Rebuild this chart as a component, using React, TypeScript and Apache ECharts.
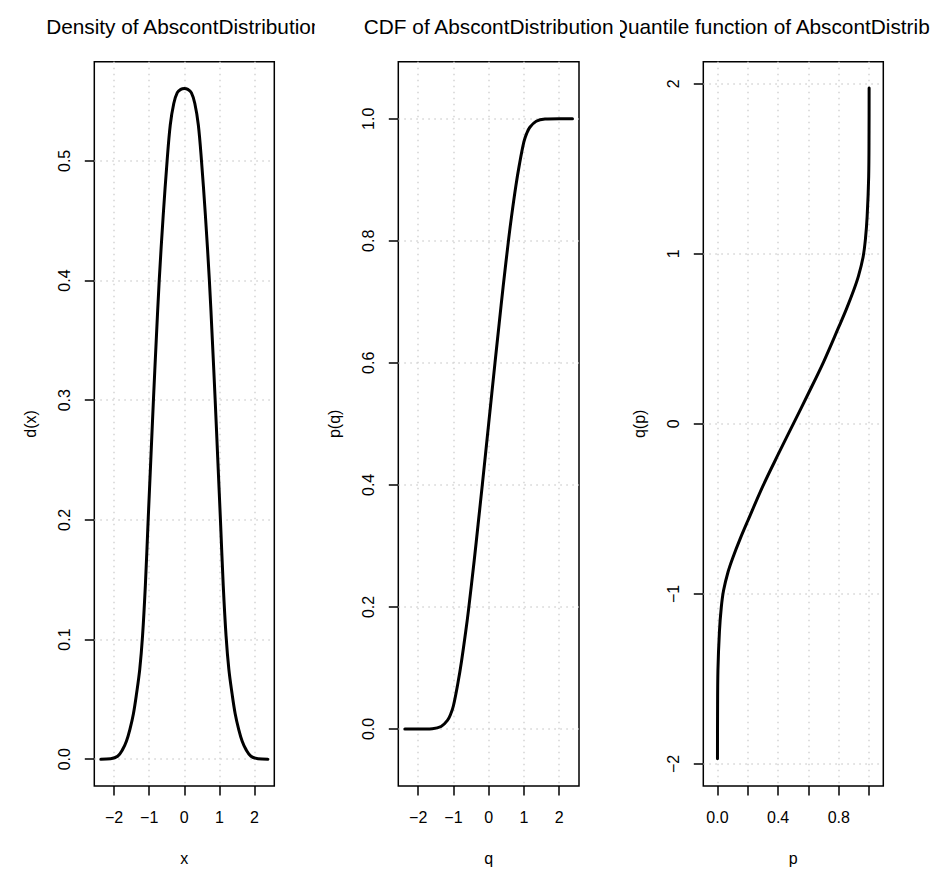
import React, { useEffect, useRef } from "react";
import * as echarts from "echarts";

// ---------- data ----------
const densityX = [-2.38, -2.1, -1.9, -1.76, -1.65, -1.55, -1.45, -1.36, -1.27, -1.19, -1.11, -1.03, -0.955, -0.88, -0.8, -0.715, -0.6, -0.49, -0.4, -0.3, -0.2, -0.1, 0, 0.1, 0.2, 0.3, 0.4, 0.49, 0.6, 0.715, 0.8, 0.88, 0.955, 1.03, 1.11, 1.19, 1.27, 1.36, 1.45, 1.55, 1.65, 1.76, 1.9, 2.1, 2.38];
const densityY = [0, 0.0004, 0.0025, 0.008, 0.015, 0.025, 0.038, 0.055, 0.075, 0.103, 0.145, 0.2, 0.25, 0.3, 0.35, 0.4, 0.455, 0.5, 0.53, 0.548, 0.557, 0.5598, 0.5605, 0.5598, 0.557, 0.548, 0.53, 0.5, 0.455, 0.4, 0.35, 0.3, 0.25, 0.2, 0.145, 0.103, 0.075, 0.055, 0.038, 0.025, 0.015, 0.008, 0.0025, 0.0004, 0];

const cdfQ = [-2.38, -2.0, -1.6, -1.35, -1.17, -1.08, -1.0, -0.87, -0.77, -0.65, -0.57, -0.41, -0.3, -0.18, 0, 0.18, 0.3, 0.41, 0.57, 0.65, 0.77, 0.87, 1.0, 1.08, 1.17, 1.35, 1.6, 2.0, 2.38];
const cdfP = [0, 0, 0.0005, 0.004, 0.014, 0.024, 0.038, 0.076, 0.111, 0.16, 0.196, 0.276, 0.335, 0.4, 0.5, 0.6, 0.665, 0.724, 0.804, 0.84, 0.889, 0.924, 0.962, 0.976, 0.986, 0.996, 0.9995, 1, 1];

const quantP = [0, 0.0005, 0.003, 0.013, 0.025, 0.04, 0.07, 0.1, 0.15, 0.2, 0.3, 0.4, 0.5, 0.6, 0.7, 0.8, 0.85, 0.9, 0.93, 0.96, 0.975, 0.987, 0.997, 0.9995, 1];
const quantQ = [-1.97, -1.72, -1.45, -1.22, -1.08, -0.98, -0.87, -0.79, -0.675, -0.57, -0.365, -0.18, 0, 0.18, 0.365, 0.57, 0.675, 0.79, 0.87, 0.98, 1.08, 1.22, 1.45, 1.72, 1.975];

// ---------- ticks ----------
const xTicksDQ = [-2, -1, 0, 1, 2];
const densityYTicks = [0, 0.1, 0.2, 0.3, 0.4, 0.5];
const cdfYTicks = [0, 0.2, 0.4, 0.6, 0.8, 1.0];
const quantXTicks = [0, 0.2, 0.4, 0.6, 0.8, 1.0];
const quantXLabels = [0, 0.4, 0.8];
const quantYTicks = [-2, -1, 0, 1, 2];

const titles = [
  "Density of AbscontDistribution",
  "CDF of AbscontDistribution",
  "Quantile function of AbscontDistribution",
];
const xNames = ["x", "q", "p"];
const yNames = ["d(x)", "p(q)", "q(p)"];

const FONT = '"Liberation Sans", Arial, Helvetica, sans-serif';

const makeFmt = (labels: number[], digits: number) => (v: number) => {
  if (!labels.some((l) => Math.abs(l - v) < 1e-9)) return "";
  const s = Math.abs(v).toFixed(digits);
  return (v < -1e-9 ? "\u2212" : "") + s;
};

const GRID_TOP = 61.7;
const GRID_H = 728.3;

type PanelSpec = {
  divLeft: number;
  divWidth: number;
  gridLeft: number;
  gridWidth: number;
  xMin: number;
  xMax: number;
  yMin: number;
  yMax: number;
  xTicks: number[];
  xLabels: number[];
  xDigits: number;
  yTicks: number[];
  yLabels: number[];
  yDigits: number;
  data: number[][];
  title: string;
  xName: string;
  yName: string;
};

const panels: PanelSpec[] = [
  {
    divLeft: 0, divWidth: 315, gridLeft: 94.3, gridWidth: 180,
    xMin: -2.565, xMax: 2.565, yMin: -0.0224, yMax: 0.5829,
    xTicks: xTicksDQ, xLabels: xTicksDQ, xDigits: 0,
    yTicks: densityYTicks, yLabels: densityYTicks, yDigits: 1,
    data: densityX.map((x, i) => [x, densityY[i]]),
    title: titles[0], xName: xNames[0], yName: yNames[0],
  },
  {
    divLeft: 315, divWidth: 305, gridLeft: 83.3, gridWidth: 180.7,
    xMin: -2.565, xMax: 2.565, yMin: -0.0935, yMax: 1.0935,
    xTicks: xTicksDQ, xLabels: xTicksDQ, xDigits: 0,
    yTicks: cdfYTicks, yLabels: cdfYTicks, yDigits: 1,
    data: cdfQ.map((x, i) => [x, cdfP[i]]),
    title: titles[1], xName: xNames[1], yName: yNames[1],
  },
  {
    divLeft: 620, divWidth: 310, gridLeft: 83.3, gridWidth: 180,
    xMin: -0.0935, xMax: 1.0935, yMin: -2.13, yMax: 2.13,
    xTicks: quantXTicks, xLabels: quantXLabels, xDigits: 1,
    yTicks: quantYTicks, yLabels: quantYTicks, yDigits: 0,
    data: quantP.map((x, i) => [x, quantQ[i]]),
    title: titles[2], xName: xNames[2], yName: yNames[2],
  },
];

const splitStyle = { color: "#D3D3D3", width: 1.5, type: [1.5, 4.5] };
const tickStyle = { color: "#000", width: 1.5 };

function buildOption(p: PanelSpec) {
  return {
    animation: false,
    grid: {
      left: p.gridLeft,
      top: GRID_TOP,
      width: p.gridWidth,
      height: GRID_H,
      show: true,
      borderColor: "#000",
      borderWidth: 1.5,
      backgroundColor: "transparent",
      containLabel: false,
    },
    xAxis: {
      type: "value",
      position: "bottom",
      min: p.xMin,
      max: p.xMax,
      axisLine: { show: false, onZero: false },
      axisTick: { show: true, inside: false, length: 9.5, lineStyle: tickStyle, customValues: p.xTicks },
      axisLabel: {
        show: true,
        customValues: p.xLabels,
        margin: 23,
        fontSize: 16,
        color: "#000",
        fontFamily: FONT,
        formatter: makeFmt(p.xLabels, p.xDigits),
      },
      splitLine: { show: true, lineStyle: splitStyle },
      name: p.xName,
      nameLocation: "middle",
      nameGap: 64,
      nameTextStyle: { fontSize: 16, color: "#000", fontFamily: FONT },
    },
    yAxis: {
      type: "value",
      position: "left",
      min: p.yMin,
      max: p.yMax,
      axisLine: { show: false, onZero: false },
      axisTick: { show: true, inside: false, length: 9.5, lineStyle: tickStyle, customValues: p.yTicks },
      axisLabel: {
        show: true,
        customValues: p.yLabels,
        rotate: 90,
        margin: 22,
        fontSize: 16,
        color: "#000",
        fontFamily: FONT,
        formatter: makeFmt(p.yLabels, p.yDigits),
      },
      splitLine: { show: true, lineStyle: splitStyle },
      name: p.yName,
      nameLocation: "middle",
      nameGap: 56,
      nameTextStyle: { fontSize: 16, color: "#000", fontFamily: FONT },
    },
    series: [
      {
        type: "line",
        data: p.data,
        showSymbol: false,
        symbol: "none",
        smooth: 0.35,
        clip: true,
        silent: true,
        z: 5,
        lineStyle: { color: "#000", width: 3, cap: "round", join: "round" },
      },
    ],
    graphic: [
      {
        type: "text",
        x: p.gridLeft + p.gridWidth / 2,
        y: 26,
        silent: true,
        style: {
          text: p.title,
          fill: "#000",
          fontSize: 20.8,
          fontFamily: FONT,
          align: "center",
          verticalAlign: "middle",
        },
      },
    ],
  };
}

export default function App() {
  const refs = [useRef<HTMLDivElement>(null), useRef<HTMLDivElement>(null), useRef<HTMLDivElement>(null)];

  useEffect(() => {
    document.body.style.margin = "0";
    const charts = panels.map((p, i) => {
      const el = refs[i].current as HTMLDivElement;
      const c = echarts.init(el, undefined, { renderer: "svg" });
      c.setOption(buildOption(p) as any);
      return c;
    });
    return () => charts.forEach((c) => c.dispose());
  }, []);

  return (
    <div style={{ position: "absolute", left: 0, top: 0, width: 930, height: 871, background: "#fff", overflow: "hidden" }}>
      {panels.map((p, i) => (
        <div
          key={i}
          ref={refs[i]}
          style={{ position: "absolute", left: p.divLeft, top: 0, width: p.divWidth, height: 871, overflow: "hidden" }}
        />
      ))}
    </div>
  );
}
